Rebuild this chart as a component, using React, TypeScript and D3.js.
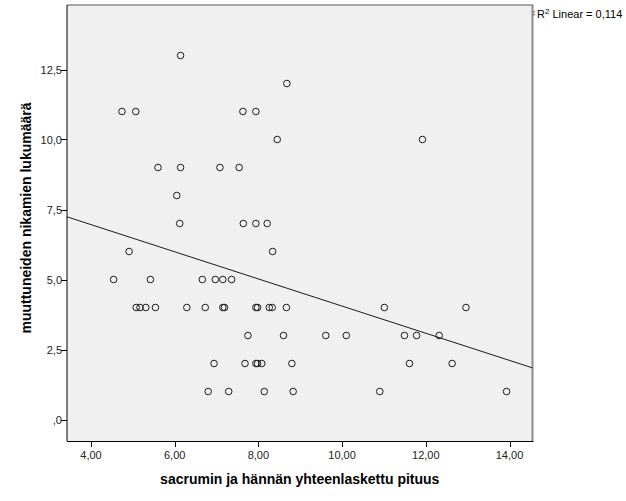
import React from "react";
import * as d3 from "d3";

// Data (x: sacrum+tail length, y: number of changed vertebrae)
const xValues: number[] = [
  6.14, 8.68, 4.74, 5.07, 7.63, 7.94, 8.45, 11.92, 5.6, 6.14, 7.08, 7.54, 6.05,
  6.12, 7.64, 7.94, 8.21, 4.91, 8.34, 4.54, 5.42, 6.66, 6.97, 7.15, 7.36,
  5.08, 5.17, 5.31, 5.54, 6.29, 6.73, 7.15, 7.19, 7.94, 7.98, 8.26, 8.33, 8.67, 11.01, 12.96,
  7.75, 8.6, 9.61, 10.1, 11.49, 11.78, 12.32,
  6.94, 7.68, 7.94, 7.98, 8.08, 8.8, 11.61, 12.63,
  6.8, 7.29, 8.14, 8.83, 10.9, 13.93,
];
const yValues: number[] = [
  13, 12, 11, 11, 11, 11, 10, 10, 9, 9, 9, 9, 8,
  7, 7, 7, 7, 6, 6, 5, 5, 5, 5, 5, 5,
  4, 4, 4, 4, 4, 4, 4, 4, 4, 4, 4, 4, 4, 4, 4,
  3, 3, 3, 3, 3, 3, 3,
  2, 2, 2, 2, 2, 2, 2, 2,
  1, 1, 1, 1, 1, 1,
];
const xTicks: number[] = [4, 6, 8, 10, 12, 14];
const yTicks: number[] = [0, 2.5, 5, 7.5, 10, 12.5];
const fitIntercept = 8.9;
const fitSlope = -0.485;
const xTitle = "sacrumin ja hännän yhteenlaskettu pituus";
const yTitle = "muuttuneiden nikamien lukumäärä";
const r2Label = "Linear = 0,114";

export default function App() {
  const W = 626;
  const H = 501;
  const left = 67;
  const right = 532.5;
  const top = 5;
  const bottom = 441;

  const x = d3.scaleLinear().domain([4, 14]).range([91, 509.5]);
  const y = d3.scaleLinear().domain([0, 12.5]).range([419.5, 69.5]);
  const xMin = x.invert(left);
  const xMax = x.invert(right);
  const fmtX = (v: number) => d3.format(".2f")(v).replace(".", ",");
  const fmtY = (v: number) => (v === 0 ? ",0" : d3.format(".1f")(v).replace(".", ","));

  const line = d3
    .line<number>()
    .x((d) => x(d))
    .y((d) => y(fitIntercept + fitSlope * d));

  const font = "'Liberation Sans', Arial, sans-serif";

  return (
    <svg
      width={W}
      height={H}
      style={{ position: "absolute", left: 0, top: 0, background: "#fff" }}
      fontFamily={font}
    >
      <rect x={left} y={top} width={right - left} height={bottom - top} fill="#f0f0f0" />
      {/* top and right frame */}
      <line x1={left} x2={right + 1} y1={top} y2={top} stroke="#8c8c8c" strokeWidth={1.5} />
      <line x1={right} x2={right} y1={top} y2={bottom} stroke="#8c8c8c" strokeWidth={2} />
      {/* axes */}
      <line x1={left} x2={left} y1={top} y2={bottom} stroke="#000" strokeWidth={1} />
      <line x1={left} x2={right + 1} y1={bottom + 0.5} y2={bottom + 0.5} stroke="#000" strokeWidth={1} />

      {/* fit line */}
      <path d={line([xMin, xMax]) || ""} fill="none" stroke="#1a1a1a" strokeWidth={1} />

      {/* points */}
      {xValues.map((xv, i) => (
        <circle
          key={i}
          cx={x(xv)}
          cy={y(yValues[i])}
          r={3.3}
          fill="none"
          stroke="#1a1a1a"
          strokeWidth={1}
        />
      ))}

      {/* x ticks */}
      {xTicks.map((t) => (
        <g key={t}>
          <line x1={Math.round(x(t)) + 0.5} x2={Math.round(x(t)) + 0.5} y1={bottom} y2={bottom + 6} stroke="#000" />
          <text x={x(t)} y={459} textAnchor="middle" fontSize={11} fill="#222">
            {fmtX(t)}
          </text>
        </g>
      ))}
      {/* y ticks */}
      {yTicks.map((t) => (
        <g key={t}>
          <line x1={left - 6} x2={left} y1={Math.round(y(t)) + 0.5} y2={Math.round(y(t)) + 0.5} stroke="#000" />
          <text x={left - 5} y={y(t) + 4} textAnchor="end" fontSize={11} fill="#222">
            {fmtY(t)}
          </text>
        </g>
      ))}

      {/* titles */}
      <text x={(left + right) / 2} y={484} textAnchor="middle" fontSize={14} fontWeight="bold" fill="#000">
        {xTitle}
      </text>
      <text
        transform={`translate(31, ${(top + bottom) / 2 - 5}) rotate(-90)`}
        textAnchor="middle"
        fontSize={14}
        fontWeight="bold"
        fill="#000"
      >
        {yTitle}
      </text>

      {/* R² label */}
      <line x1={534} x2={534} y1={11} y2={17} stroke="#333" strokeWidth={1} strokeDasharray="1.5,1.5" />
      <text x={537} y={18} fontSize={11} fill="#000">
        R<tspan dy={-4} fontSize={8}>2</tspan>
        <tspan dy={4}> {r2Label}</tspan>
      </text>
    </svg>
  );
}
